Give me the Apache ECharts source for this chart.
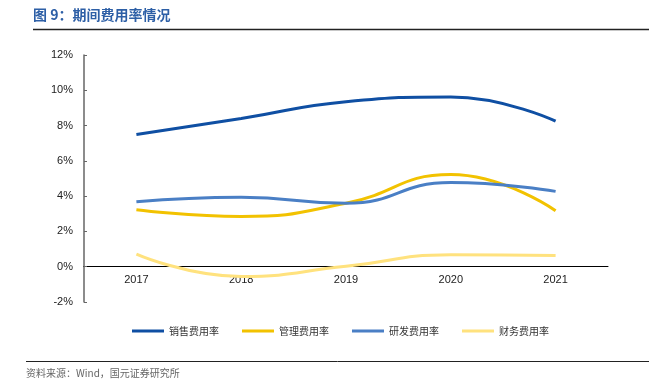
<!DOCTYPE html>
<html><head><meta charset="utf-8">
<script src="https://cdn.jsdelivr.net/npm/echarts@6/dist/echarts.min.js"></script>
<style>html,body{margin:0;padding:0;background:#fff}#c{width:649px;height:383px}</style>
</head><body><div id="c"></div>
<script>
const categories = ['2017','2018','2019','2020','2021'];
const seriesNames = ['销售费用率','管理费用率','研发费用率','财务费用率'];
const sales = [7.5, 8.4, 9.35, 9.62, 8.25];
const admin = [3.23, 2.85, 3.6, 5.22, 3.17];
const rnd = [3.68, 3.94, 3.6, 4.77, 4.27];
const finance = [0.72, -0.55, 0.02, 0.68, 0.64];
const yTicks = {min: -2, max: 12, interval: 2};
const colors = ['#0F4FA3', '#F2C200', '#4A7FC5', '#FFE27E'];

const gridTop = 55, gridBottom = 81, H = 383;
const plotH = H - gridTop - gridBottom;
const zeroOffset = -plotH * (0 - yTicks.min) / (yTicks.max - yTicks.min);

const chart = echarts.init(document.getElementById('c'));
const values = [sales, admin, rnd, finance];
chart.setOption({
  animation: false,
  color: colors,
  grid: {left: 84, right: 41, top: gridTop, bottom: gridBottom},
  legend: {
    left: 132, top: 326, itemWidth: 32, itemHeight: 3, itemGap: 23, padding: 0,
    icon: 'rect',
    textStyle: {fontSize: 10, color: '#333', fontFamily: 'Noto Sans CJK SC'},
    data: seriesNames
  },
  xAxis: {
    type: 'category', data: categories, boundaryGap: true,
    offset: zeroOffset,
    axisLine: {onZero: false, lineStyle: {color: '#000', width: 1}},
    axisTick: {inside: true, length: 4, lineStyle: {color: '#000'}},
    axisLabel: {color: '#222', fontSize: 11, fontFamily: 'Liberation Sans', margin: 8}
  },
  yAxis: {
    type: 'value', min: yTicks.min, max: yTicks.max, interval: yTicks.interval,
    axisLine: {show: true, lineStyle: {color: '#666', width: 1.5}},
    axisTick: {show: true, inside: true, length: 3, lineStyle: {color: '#666'}},
    splitLine: {show: false},
    axisLabel: {formatter: v => v + '%', color: '#222', fontSize: 11, fontFamily: 'Liberation Sans', margin: 11}
  },
  series: seriesNames.map((n, i) => ({
    name: n, type: 'line', smooth: 0.5, data: values[i],
    symbol: 'none', lineStyle: {width: 3, color: colors[i]}
  })),
  graphic: [
    {type: 'text', left: 33, top: 8, style: {text: '图 9：期间费用率情况', fill: '#2D5FA6', font: 'bold 14px "Noto Sans CJK SC"'}},
    {type: 'line', shape: {x1: 33, y1: 29.5, x2: 649, y2: 29.5}, style: {stroke: '#222', lineWidth: 1.5}},
    {type: 'line', shape: {x1: 26, y1: 361.5, x2: 649, y2: 361.5}, style: {stroke: '#222', lineWidth: 1}},
    {type: 'text', left: 26, top: 368, style: {text: '资料来源：Wind，国元证券研究所', fill: '#666', font: '10px "Noto Sans CJK SC"'}}
  ]
});
</script></body></html>
